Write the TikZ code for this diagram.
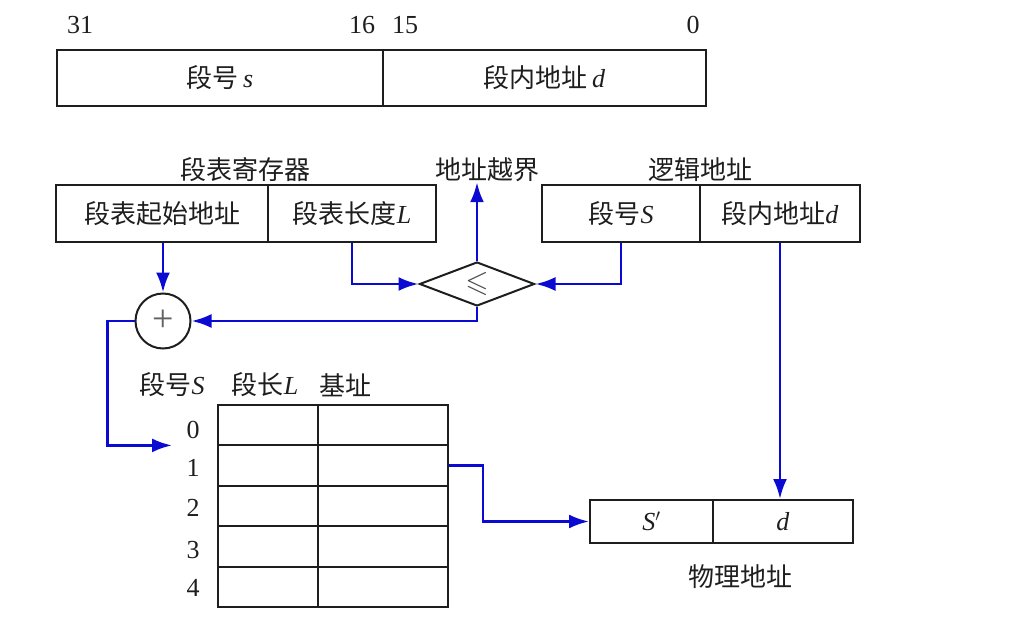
\documentclass[tikz,border=0pt]{standalone}
\usepackage{amssymb}
\usepackage{fontspec}
\setmainfont{Liberation Serif}
\newfontfamily\cjk{Noto Sans CJK SC}
\usetikzlibrary{arrows.meta,shapes.geometric}
\definecolor{ablue}{RGB}{10,10,210}
\definecolor{ink}{RGB}{30,30,30}
\tikzset{
  txt/.style={font=\fontsize{26}{30}\selectfont, text=ink, inner sep=0pt},
  cell/.style={draw=ink, line width=2pt, rectangle, inner sep=0pt, txt},
  conn/.style={draw=ablue, line width=2.8pt, -{Latex[length=20pt,width=14pt]}},
}
\begin{document}
\begin{tikzpicture}[x=1pt,y=-1pt]
\useasboundingbox (0,0) rectangle (1030,636);
% top format
\node[txt] (b31) at (80,25) {31};
\node[txt] (b16) at (362,25) {16};
\node[txt] (b15) at (405,25) {15};
\node[txt] (b0) at (693,25) {0};
\node[cell, minimum width=326pt, minimum height=56pt] (topS) at (220,78) {{\cjk 段号}\,\textit{s}};
\node[cell, minimum width=323pt, minimum height=56pt] (topD) at (544.5,78) {{\cjk 段内地址}\,\textit{d}};
% segment table register
\node[txt] (regT) at (245,170) {\cjk 段表寄存器};
\node[cell, minimum width=212pt, minimum height=57pt] (regA) at (162,213.5) {\cjk 段表起始地址};
\node[cell, minimum width=168pt, minimum height=57pt] (regL) at (352,213.5) {{\cjk 段表长度}\textit{L}};
% logical address
\node[txt] (logT) at (700,170) {\cjk 逻辑地址};
\node[cell, minimum width=158pt, minimum height=57pt] (logS) at (621,213.5) {{\cjk 段号}\textit{S}};
\node[cell, minimum width=160pt, minimum height=57pt] (logD) at (780,213.5) {{\cjk 段内地址}\textit{d}};
% out of bounds
\node[txt] (oob) at (487,170) {\cjk 地址越界};
% comparator
\node[draw=ink, line width=2pt, diamond, inner sep=0pt, minimum width=115pt, minimum height=44pt, aspect=2.6, text=ink!80] (cmp) at (477,284) {\fontsize{30}{32}\selectfont$\leqslant$};
% adder
\node[draw=ink, line width=2pt, circle, minimum size=55pt, inner sep=0pt, text=ink!70, font=\fontsize{38}{40}\selectfont] (add) at (163,321) {+};
% segment table
\node[txt] (hS) at (172,385) {{\cjk 段号}\textit{S}};
\node[txt] (hL) at (265,385) {{\cjk 段长}\textit{L}};
\node[txt] (hB) at (345,385) {\cjk 基址};
\foreach \i/\ly in {0/430,1/468,2/508,3/550,4/588}{
  \node[cell, minimum width=100pt, minimum height=40.4pt] (t\i L) at (268,{425.2+40.4*\i}) {};
  \node[cell, minimum width=130pt, minimum height=40.4pt] (t\i B) at (383,{425.2+40.4*\i}) {};
  \node[txt] (n\i) at (193,\ly) {\i};
}
\coordinate (entry) at (172,445.4);
% physical address
\node[cell, minimum width=123pt, minimum height=43pt] (pS) at (651.5,521.5) {\textit{S}$'$};
\node[cell, minimum width=140pt, minimum height=43pt] (pD) at (783,521.5) {\textit{d}};
\node[txt] (pT) at (740,577) {\cjk 物理地址};
% connectors
\draw[conn] (regA.south -| add) -- (add.north);
\draw[conn] (regL.south) |- (cmp.west);
\draw[conn] (logS.south) |- (cmp.east);
\draw[conn] (cmp.north) -- (cmp.north |- oob.south);
\draw[conn] (cmp.south) |- (add.east);
\draw[conn] (add.west) -- ++(-27,0) |- (entry);
\draw[conn] (t1B.east) -- ++(34,0) |- (pS.west);
\draw[conn] (logD.south) -- (logD.south |- pD.north);
\end{tikzpicture}
\end{document}
